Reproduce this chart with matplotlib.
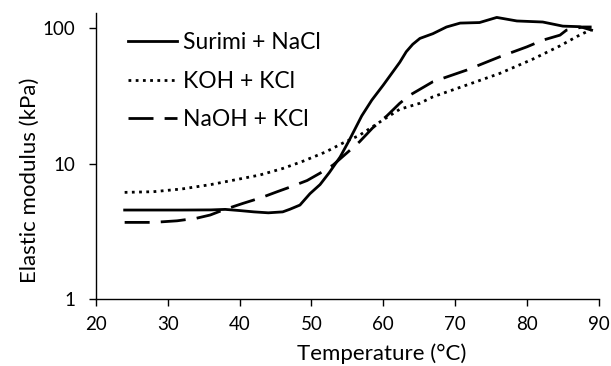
import matplotlib
matplotlib.use('Agg')
import matplotlib.pyplot as plt
from matplotlib.ticker import FixedLocator, FixedFormatter, NullLocator

plt.rcParams['font.family'] = ['Lato', 'DejaVu Sans']

# Surimi + NaCl
temp_surimi = [24, 28, 32, 36, 38, 40, 42, 44, 46, 47, 48.4, 49.8, 51.2, 52.5, 54.0, 55.3,
               57.0, 58.4, 60.0, 62.3, 63.2, 64.1, 65.1, 66.9, 68.8, 70.7, 73.4, 75.8, 78.6, 82.2,
               85.0, 87.4, 89.0]
mod_surimi = [4.54, 4.54, 4.54, 4.55, 4.59, 4.5, 4.4, 4.33, 4.4, 4.6, 4.94, 6.0, 7.0, 8.6, 11.2, 15.0,
              22.5, 29.4, 38, 56, 67, 76, 84, 91, 102, 109, 110, 120, 113, 111,
              103.5, 102.5, 96.7]

# KOH + KCl
temp_koh = [24, 28, 32, 36, 40, 42.8, 46, 48.8, 52, 54.4, 56.7, 59.9, 62.3, 65.1, 66.9, 71.6,
            76.2, 80.8, 84.6, 87, 89]
mod_koh = [6.13, 6.2, 6.5, 7.0, 7.7, 8.23, 9.2, 10.4, 12.2, 14.2, 16.2, 20.9, 25.2, 27.9, 31.1, 38,
           46.3, 59, 74, 87, 98]

# NaOH + KCl
temp_naoh = [24, 28, 31.3, 34, 35.9, 38, 40.5, 43, 45.2, 47, 49.4, 51.2, 53, 55.1, 56.7, 58.5,
             60.5, 62.3, 63.7, 66.9, 71.6, 76.2, 80, 82.2, 84.6, 85.5, 87.8, 89]
mod_naoh = [3.68, 3.68, 3.78, 3.95, 4.17, 4.6, 5.09, 5.6, 6.19, 6.7, 7.5, 8.5, 9.75, 12.2, 14.5, 18.3,
            22.5, 27.9, 32, 40.2, 49, 61.4, 72.8, 81.5, 88.8, 96.7, 102, 102]

xticks = [20, 30, 40, 50, 60, 70, 80, 90]
yticks = [1, 10, 100]
ytick_labels = ['1', '10', '100']

fig = plt.figure(figsize=(6.11, 3.66), dpi=100)
ax = fig.add_axes([0.157, 0.183, 0.823, 0.781])

ax.plot(temp_surimi, mod_surimi, color='black', lw=2.0, ls='-', label='Surimi + NaCl')
ax.plot(temp_koh, mod_koh, color='black', lw=2.0, ls=(0, (1, 1.6)), label='KOH + KCl')
ax.plot(temp_naoh, mod_naoh, color='black', lw=2.0, ls=(0, (9, 4)), label='NaOH + KCl')

ax.set_yscale('log')
ax.set_xlim(20, 90)
ax.set_ylim(1, 129)
ax.xaxis.set_major_locator(FixedLocator(xticks))
ax.yaxis.set_major_locator(FixedLocator(yticks))
ax.yaxis.set_major_formatter(FixedFormatter(ytick_labels))
ax.yaxis.set_minor_locator(NullLocator())

for s in ['top', 'right']:
    ax.spines[s].set_visible(False)
for s in ['left', 'bottom']:
    ax.spines[s].set_linewidth(1.0)
ax.tick_params(direction='out', length=5, width=1.0, labelsize=13.5)
ax.tick_params(axis='x', pad=7)
ax.tick_params(axis='y', pad=10)

ax.set_xlabel('Temperature (°C)', fontsize=16)
ax.set_ylabel('Elastic modulus (kPa)', fontsize=16)
ax.xaxis.set_label_coords(0.568, -0.155)
ax.yaxis.set_label_coords(-0.112, 0.416)

ax.legend(loc='upper left', bbox_to_anchor=(0.022, 1.005), frameon=False, fontsize=16.5,
          handlelength=2.15, handletextpad=0.25, labelspacing=0.75)

plt.savefig('out.png', dpi=100)
